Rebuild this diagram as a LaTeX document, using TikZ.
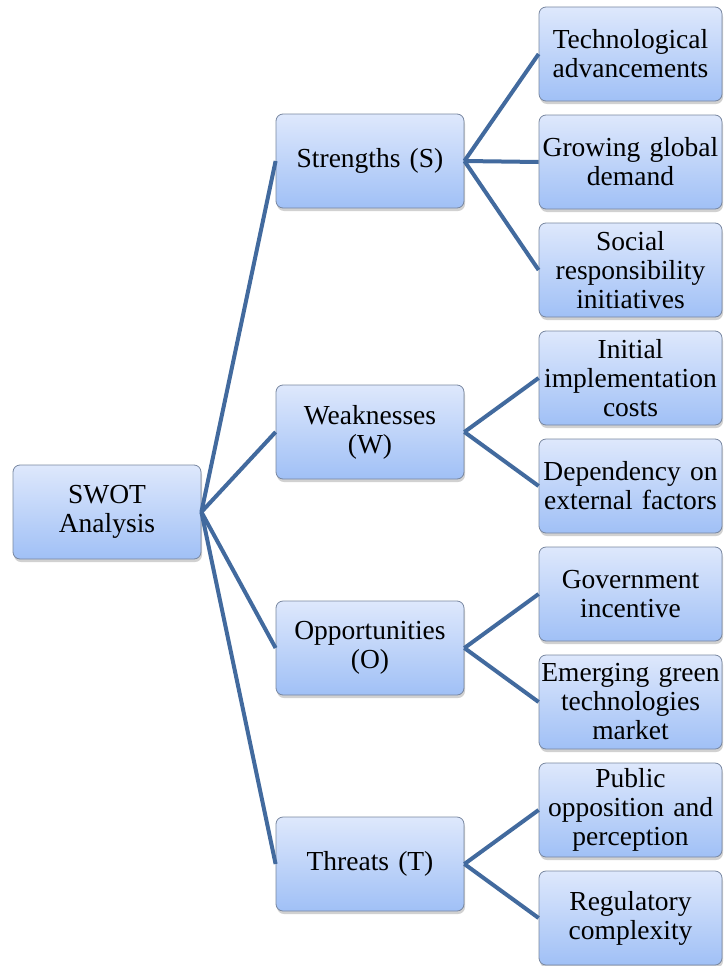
\documentclass[tikz,border=0pt]{standalone}
\usepackage{fontspec}
\setmainfont{Liberation Serif}
\usetikzlibrary{shadows}
\definecolor{boxtop}{RGB}{222,232,252}
\definecolor{boxbot}{RGB}{160,192,246}
\definecolor{boxborder}{RGB}{120,135,160}
\definecolor{linkc}{RGB}{66,106,158}
\begin{document}
\begin{tikzpicture}[x=1pt,y=-1pt,
  box/.style={draw=boxborder, line width=0.8pt, rounded corners=7pt,
    top color=boxtop, bottom color=boxbot, minimum height=94pt,
    inner sep=0pt, align=center, font=\fontsize{27.5}{29}\selectfont,
    drop shadow={shadow xshift=1pt, shadow yshift=-3pt, opacity=0.3, fill=black!60}},
  mid/.style={box, minimum width=188pt, text width=186pt},
  leaf/.style={box, minimum width=183pt, text width=183pt},
  conn/.style={draw=linkc, line width=4pt}]
\useasboundingbox (0,0) rectangle (723,966);
\node[mid] (root) at (107,512) {SWOT\\Analysis};
\node[mid] (S) at (370,161) {Strengths (S)};
\node[mid] (W) at (370,432) {Weaknesses\\(W)};
\node[mid] (O) at (370,648) {Opportunities\\(O)};
\node[mid] (T) at (370,864) {Threats (T)};
\node[leaf] (s1) at (630.5,54) {Technological\\advancements};
\node[leaf] (s2) at (630.5,162) {Growing global\\demand};
\node[leaf] (s3) at (630.5,270) {Social\\responsibility\\initiatives};
\node[leaf] (w1) at (630.5,378) {Initial\\implementation\\costs};
\node[leaf] (w2) at (630.5,486) {Dependency on\\external factors};
\node[leaf] (o1) at (630.5,594) {Government\\incentive};
\node[leaf] (o2) at (630.5,702) {Emerging green\\technologies\\market};
\node[leaf] (t1) at (630.5,810) {Public\\opposition and\\perception};
\node[leaf] (t2) at (630.5,918) {Regulatory\\complexity};
\foreach \a/\b in {root/S,root/W,root/O,root/T,S/s1,S/s2,S/s3,W/w1,W/w2,O/o1,O/o2,T/t1,T/t2}
  \draw[conn] (\a.east) -- (\b.west);
\end{tikzpicture}
\end{document}
